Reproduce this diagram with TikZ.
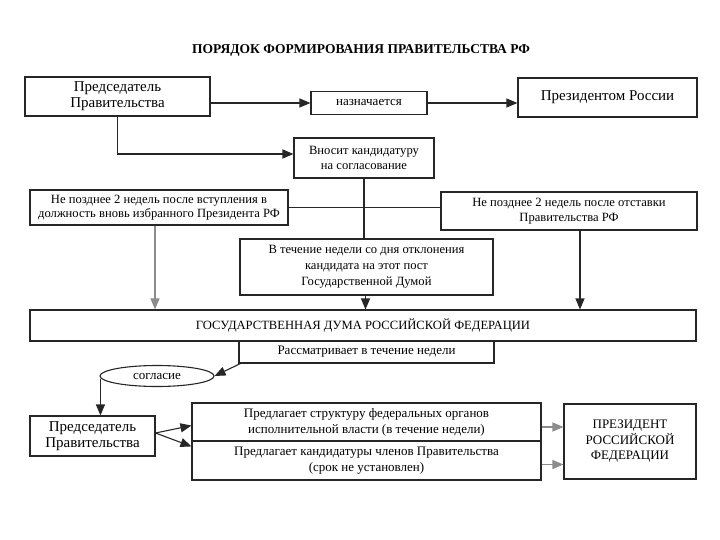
\documentclass[tikz,border=0pt]{standalone}
\usepackage{fontspec}
\setmainfont{Liberation Serif}
\usetikzlibrary{arrows.meta,calc,shapes.geometric}
\tikzset{
  box/.style={draw=black!85, line width=1.1pt, fill=white, align=center, inner sep=0pt},
  fbig/.style={font=\fontsize{15}{16}\selectfont},
  fmid/.style={font=\fontsize{12.6}{14.5}\selectfont},
  fsmall/.style={font=\fontsize{13}{16}\selectfont},
  conn/.style={draw=black!85, line width=1.1pt},
  arr/.style={conn, -{Triangle[length=11pt,width=9pt]}},
  garr/.style={arr, draw=black!45},
}
\begin{document}
\begin{tikzpicture}[x=1pt,y=-1pt]
\useasboundingbox (0,0) rectangle (720,540);
\node[font=\bfseries\fontsize{13.5}{15}\selectfont] (title) at (361,50) {ПОРЯДОК ФОРМИРОВАНИЯ ПРАВИТЕЛЬСТВА РФ};
\node[box,fbig,minimum width=185,minimum height=39] (A) at (117.5,96.5) {Председатель\\Правительства};
\node[box,fsmall,minimum width=116,minimum height=23] (N) at (369,103) {назначается};
\node[box,fbig,minimum width=179,minimum height=39] (P) at (607.5,97.5) {Президентом России};
\node[box,fmid,minimum width=140,minimum height=40] (V) at (364,158) {Вносит кандидатуру\\на согласование};
\node[box,fmid,minimum width=258,minimum height=35] (L) at (159,207.5) {Не позднее 2 недель после вступления в\\должность вновь избранного Президента РФ};
\node[box,fmid,minimum width=256,minimum height=38] (R) at (569,211) {Не позднее 2 недель после отставки\\Правительства РФ};
\node[box,fmid,font=\fontsize{12.6}{16}\selectfont,minimum width=253,minimum height=56] (W) at (366.5,267) {В течение недели со дня отклонения\\кандидата на этот пост\\Государственной Думой};
\node[box,fmid,minimum width=666,minimum height=31] (D) at (363,325.5) {ГОСУДАРСТВЕННАЯ ДУМА РОССИЙСКОЙ ФЕДЕРАЦИИ};
\node[box,fsmall,minimum width=255,minimum height=22] (Rs) at (366.5,352) {Рассматривает в течение недели};
\node[box,fsmall,ellipse,minimum width=114,minimum height=21] (E) at (157,376) {согласие};
\node[box,fbig,minimum width=125,minimum height=40] (C) at (92.5,436) {Председатель\\Правительства};
\node[box,fsmall,minimum width=349,minimum height=38] (S1) at (366.5,422) {Предлагает структуру федеральных органов\\исполнительной власти (в течение недели)};
\node[box,fsmall,minimum width=349,minimum height=39] (S2) at (366.5,460.5) {Предлагает кандидатуры членов Правительства\\(срок не установлен)};
\node[box,font=\fontsize{13}{15.5}\selectfont,minimum width=132,minimum height=75] (PRF) at (630,441.5) {ПРЕЗИДЕНТ\\РОССИЙСКОЙ\\ФЕДЕРАЦИИ};
% helper coordinates
\coordinate (aN) at (A.east |- N.west);
\coordinate (vIn) at ($(V.west)+(0,-4)$);
\coordinate (lS) at ($(L.south)+(-4,0)$);
\coordinate (wS) at ($(W.south)+(-1,0)$);
\coordinate (rS) at ($(R.south)+(11,0)$);
\coordinate (eW) at ($(E.west)+(1,3)$);
\coordinate (cE) at ($(C.east)+(0,-3)$);
\coordinate (s1In) at ($(S1.south west)+(0,-16)$);
\coordinate (s2In) at ($(S2.north west)+(0,6)$);
\coordinate (s1Out) at ($(S1.east)+(0,5)$);
\coordinate (s2Out) at ($(S2.east)+(0,4)$);
% connectors
\draw[arr] (aN) -- (N.west);
\draw[arr] (N.east) -- (N.east -| P.west);
\draw[arr] (A.south) |- (vIn);
\draw[conn] (V.south) -- (V.south |- W.north);
\draw[conn] (L.east) -- (L.east -| R.west);
\draw[garr] (lS) -- (lS |- D.north);
\draw[arr] (wS) -- (wS |- D.north);
\draw[arr] (rS) -- (rS |- D.north);
\draw[arr] ($(Rs.south west)+(2,0)$) -- (E.east);
\draw[arr] (eW) -- (eW |- C.north);
\draw[arr] (cE) -- (s1In);
\draw[arr] (cE) -- (s2In);
\draw[garr] (s1Out) -- (s1Out -| PRF.west);
\draw[garr] (s2Out) -- (s2Out -| PRF.west);
\end{tikzpicture}
\end{document}
